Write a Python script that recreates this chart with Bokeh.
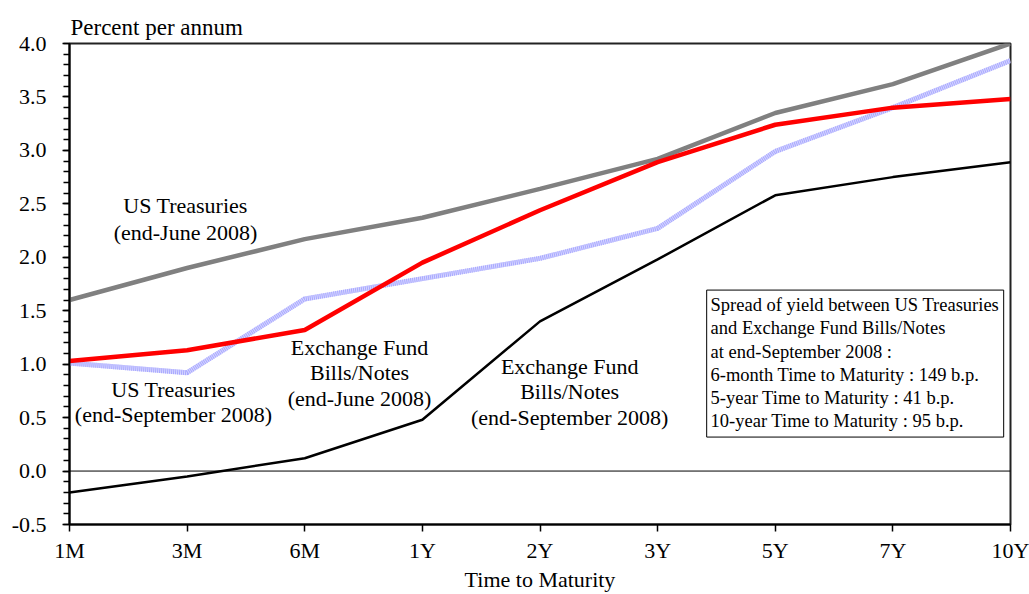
from bokeh.plotting import figure
from bokeh.models import FixedTicker, Label, BoxAnnotation, Span
from bokeh.embed import file_html
from bokeh.resources import INLINE

categories = ["1M", "3M", "6M", "1Y", "2Y", "3Y", "5Y", "7Y", "10Y"]
us_june = [1.60, 1.90, 2.17, 2.37, 2.64, 2.92, 3.35, 3.62, 4.00]
ef_june = [1.03, 1.13, 1.32, 1.95, 2.44, 2.89, 3.24, 3.40, 3.48]
us_sep = [1.01, 0.92, 1.61, 1.80, 1.99, 2.27, 2.99, 3.40, 3.84]
ef_sep = [-0.20, -0.05, 0.12, 0.48, 1.40, 1.98, 2.58, 2.75, 2.89]
y_ticks = [-0.5, 0.0, 0.5, 1.0, 1.5, 2.0, 2.5, 3.0, 3.5, 4.0]

FONT = "Liberation Serif"
xs = list(range(len(categories)))

p = figure(width=1029, height=594, output_backend="svg", toolbar_location=None,
           x_range=(0, len(categories) - 1), y_range=(-0.5, 4.0),
           min_border_left=69, min_border_right=19, min_border_top=43, min_border_bottom=70)
p.xgrid.visible = False
p.ygrid.visible = False
p.outline_line_color = "#222222"
p.outline_line_width = 2
p.background_fill_color = "white"
p.border_fill_color = "white"

p.title.text = "Percent per annum"
p.title.text_font = FONT
p.title.text_font_size = "23px"
p.title.text_font_style = "normal"
p.title.text_color = "black"
p.title.align = "left"
p.title.offset = 1
p.title.standoff = 7

# axes
p.xaxis.ticker = FixedTicker(ticks=xs)
p.xaxis.major_label_overrides = {i: c for i, c in enumerate(categories)}
p.yaxis.ticker = FixedTicker(ticks=y_ticks, minor_ticks=[round(-0.5 + 0.1 * i, 2) for i in range(46)])
p.yaxis.major_label_overrides = {t: f"{t:.1f}" for t in y_ticks}
for ax in (p.xaxis[0], p.yaxis[0]):
    ax.axis_line_color = "black"
    ax.axis_line_width = 2
    ax.major_tick_line_color = "black"
    ax.major_tick_line_width = 1.5
    ax.major_tick_out = 7
    ax.major_tick_in = 0
    ax.major_label_text_font = FONT
    ax.major_label_text_font_size = "22px"
    ax.major_label_text_color = "black"
p.xaxis.major_label_standoff = 6
p.yaxis.major_label_standoff = 16
p.yaxis.minor_tick_line_color = "black"
p.yaxis.minor_tick_line_width = 1.5
p.yaxis.minor_tick_out = 6
p.yaxis.minor_tick_in = 0
p.xaxis.minor_tick_line_color = None
p.xaxis.axis_label = "Time to Maturity"
p.xaxis.axis_label_text_font = FONT
p.xaxis.axis_label_text_font_size = "22px"
p.xaxis.axis_label_text_font_style = "normal"
p.xaxis.axis_label_text_color = "black"
p.xaxis.axis_label_standoff = 1

# zero line
p.add_layout(Span(location=0, dimension="width", line_color="black", line_width=1))

# series
p.line(xs, us_june, line_color="#808080", line_width=4.5)
p.line(xs, us_sep, line_color="#d6d6ff", line_width=5)
p.line(xs, us_sep, line_color="#a8a8ff", line_width=5, line_dash="1 1")
p.line(xs, ef_june, line_color="#ff0000", line_width=4.5)
p.line(xs, ef_sep, line_color="black", line_width=2.5)

def lab(x, y, t, size="22px", align="center", baseline="middle"):
    p.add_layout(Label(x=x, y=y, text=t, text_font=FONT, text_font_size=size,
                       text_align=align, text_baseline=baseline, text_color="black"))

lab(0.986, 2.488, "US Treasuries")
lab(0.986, 2.236, "(end-June 2008)")
lab(2.466, 1.160, "Exchange Fund")
lab(2.466, 0.926, "Bills/Notes")
lab(2.466, 0.683, "(end-June 2008)")
lab(0.884, 0.767, "US Treasuries")
lab(0.884, 0.533, "(end-September 2008)")
lab(4.252, 0.982, "Exchange Fund")
lab(4.252, 0.748, "Bills/Notes")
lab(4.252, 0.505, "(end-September 2008)")

p.add_layout(BoxAnnotation(left=5.417, right=7.942, bottom=0.318, top=1.693,
                           fill_color="white", fill_alpha=1.0,
                           line_color="black", line_alpha=1.0, line_width=1))
box_lines = ["Spread of yield between US Treasuries",
             "and Exchange Fund Bills/Notes",
             "at end-September 2008 :",
             "6-month Time to Maturity : 149 b.p.",
             "5-year Time to Maturity : 41 b.p.",
             "10-year Time to Maturity : 95 b.p."]
box_y = [1.553, 1.338, 1.113, 0.898, 0.683, 0.468]
for t, yy in zip(box_lines, box_y):
    lab(5.45, yy, t, size="18.5px", align="left")

open("out.html", "w").write(file_html(p, INLINE))
